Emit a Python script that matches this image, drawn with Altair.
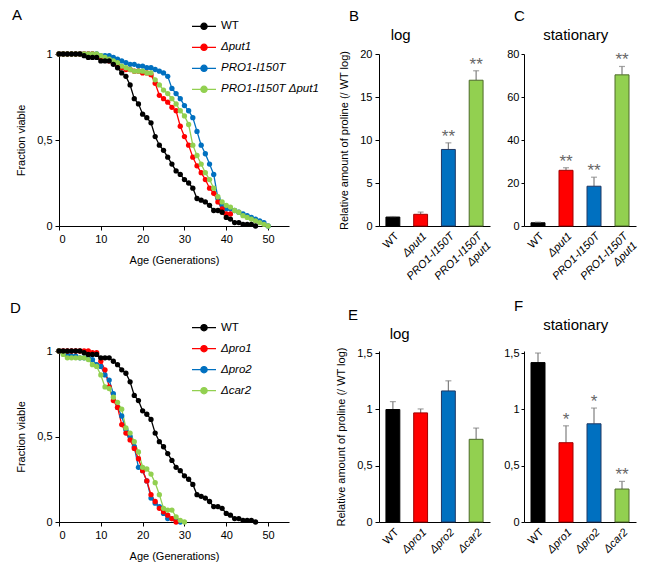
import altair as alt
import pandas as pd

FONT = "Liberation Sans"
NB = "\u00a0"
ZW = "\u200b"

# ---------------- Panel A: lifespan ----------------
A_series = ["WT", "Δput1", "PRO1-I150T", "PRO1-I150T Δput1"]
A_colors = ["#000000", "#FF0000", "#0070C0", "#92D050"]

A_wt = [1, 1, 1, 1, 1, 1, 0.99, 0.98, 0.98, 0.98, 0.96, 0.96, 0.96, 0.94, 0.92, 0.89,
        0.87, 0.82, 0.74, 0.71, 0.65, 0.63, 0.60, 0.52, 0.47, 0.44, 0.40, 0.36, 0.32,
        0.30, 0.27, 0.25, 0.22, 0.16, 0.15, 0.14, 0.12, 0.09, 0.09, 0.08, 0.05, 0.04,
        0.02, 0.02, 0.01, 0.01, 0.01, 0]
A_put1 = [1, 1, 1, 1, 1, 1, 1, 1, 1, 0.99, 0.98, 0.97, 0.96, 0.95, 0.93, 0.92, 0.91,
          0.91, 0.90, 0.90, 0.89, 0.89, 0.88, 0.83, 0.76, 0.74, 0.72, 0.69, 0.67, 0.58,
          0.52, 0.47, 0.40, 0.35, 0.31, 0.27, 0.22, 0.19, 0.14, 0.10, 0.07, 0.07]
A_pro1 = [1, 1, 1, 1, 1, 1, 1, 1, 1, 1, 0.99, 0.99, 0.99, 0.98, 0.97, 0.96, 0.95, 0.94,
          0.94, 0.93, 0.93, 0.92, 0.92, 0.91, 0.90, 0.89, 0.87, 0.80, 0.77, 0.74, 0.70,
          0.67, 0.63, 0.55, 0.47, 0.42, 0.36, 0.30, 0.16, 0.12, 0.10, 0.10, 0.09, 0.08,
          0.07, 0.06, 0.05, 0.04, 0.03, 0.02, 0]
A_both = [1, 1, 1, 1, 1, 1, 1, 1, 1, 1, 0.99, 0.98, 0.97, 0.96, 0.95, 0.93, 0.92, 0.91,
          0.90, 0.90, 0.90, 0.89, 0.89, 0.85, 0.82, 0.79, 0.77, 0.74, 0.71, 0.67, 0.64,
          0.59, 0.47, 0.41, 0.36, 0.31, 0.27, 0.22, 0.17, 0.14, 0.12, 0.11, 0.09, 0.08,
          0.06, 0.05, 0.04, 0.03, 0.02, 0.01, 0]

# ---------------- Panel D: lifespan ----------------
D_series = ["WT", "Δpro1", "Δpro2", "Δcar2"]
D_colors = ["#000000", "#FF0000", "#0070C0", "#92D050"]
D_wt = A_wt
D_pro1 = [1, 1, 1, 1, 1, 1, 1, 1, 0.99, 0.99, 0.94, 0.89, 0.79, 0.71, 0.67, 0.57, 0.52,
          0.48, 0.43, 0.37, 0.30, 0.24, 0.16, 0.12, 0.08, 0.06, 0.04, 0.02, 0]
D_pro2 = [1, 0.99, 0.98, 0.97, 0.97, 0.96, 0.96, 0.96, 0.95, 0.92, 0.91, 0.86, 0.83,
          0.75, 0.67, 0.62, 0.54, 0.50, 0.44, 0.32, 0.30, 0.24, 0.14, 0.11, 0.09, 0.05,
          0.02, 0.02, 0.01, 0]
D_car2 = [1, 0.98, 0.96, 0.96, 0.96, 0.96, 0.96, 0.95, 0.92, 0.91, 0.86, 0.79, 0.78,
          0.73, 0.70, 0.66, 0.55, 0.52, 0.47, 0.41, 0.32, 0.31, 0.28, 0.23, 0.16, 0.08,
          0.07, 0.07, 0.03, 0.01, 0]

# ---------------- Bar panels ----------------
B_cats = ["WT", "Δput1", "PRO1-I150T", "PRO1-I150T Δput1"]
B_vals = [1.04, 1.36, 8.9, 16.95]
B_errs = [0.06, 0.26, 0.77, 1.1]
B_stars = ["", "", "**", "**"]

C_vals = [1.5, 25.9, 18.5, 70.3]
C_errs = [0.3, 1.2, 4.2, 3.9]
C_stars = ["", "**", "**", "**"]

E_cats = ["WT", "Δpro1", "Δpro2", "Δcar2"]
E_vals = [1.0, 0.97, 1.165, 0.735]
E_errs = [0.07, 0.035, 0.09, 0.10]
E_stars = ["", "", "", ""]

F_vals = [1.417, 0.705, 0.873, 0.293]
F_errs = [0.085, 0.15, 0.14, 0.068]
F_stars = ["", "*", "*", "**"]

BAR_FILL = ["#000000", "#FF0000", "#0070C0", "#92D050"]
BAR_STROKE = ["#000000", "#A00000", "#1F3864", "#4E6B2A"]

LEG_SYMBOL = "M-1,0L1,0M0.26,0A0.26,0.26,0,1,1,-0.26,0A0.26,0.26,0,1,1,0.26,0Z"
COMMA = "replace(format(datum.value, '~g'), '.', ',')"
ITALIC_EXPR = "datum.label == 'WT' ? 'normal' : 'italic'"


def title_params(lines, dx, dy=0):
    return alt.TitleParams(text=lines, anchor="start", frame="group", dx=dx, dy=dy,
                           fontSize=15, fontWeight="normal", font=FONT,
                           lineHeight=19, offset=5, color="#000000")


def lifespan(series, colors, curves, title, dx, dy, legend_y, height):
    rows = []
    # draw order: blue, red, green, black on top
    for idx in [2, 1, 3, 0]:
        for age, frac in enumerate(curves[idx]):
            rows.append({"series": series[idx], "age": age, "frac": frac})
    df = pd.DataFrame(rows)
    x = alt.X("age:Q", scale=alt.Scale(domain=[0, 55], nice=False),
              axis=alt.Axis(values=[0, 10, 20, 30, 40, 50], title="Age (Generations)",
                            grid=False, tickSize=4, titlePadding=10))
    y = alt.Y("frac:Q", scale=alt.Scale(domain=[0, 1], nice=False),
              axis=alt.Axis(values=[0, 0.5, 1], title="Fraction viable", grid=False,
                            tickSize=4, labelExpr=COMMA, titlePadding=10))
    leg = alt.Legend(title=ZW, titleOrient="right", titlePadding=6, titleFontSize=11,
                     orient="none", legendX=132, legendY=legend_y,
                     symbolType=LEG_SYMBOL, symbolSize=576, symbolStrokeWidth=1.3,
                     labelFont=FONT, labelFontSize=11.5, labelColor="#000000",
                     labelFontStyle=alt.ExprRef(expr=ITALIC_EXPR),
                     rowPadding=2, labelOffset=4, symbolOpacity=1)
    cscale = alt.Scale(domain=series, range=colors)
    line = alt.Chart(df).mark_line(strokeWidth=1.3).encode(
        x=x, y=y, detail="series:N",
        color=alt.Color("series:N", scale=cscale),
        order=alt.Order("age:Q"),
    )
    pts = alt.Chart(df).mark_point(filled=True, size=28, opacity=1, strokeWidth=0).encode(
        x=x, y=y,
        color=alt.Color("series:N", scale=cscale, legend=leg),
        stroke=alt.Stroke("series:N", scale=cscale, legend=leg),
    )
    return alt.layer(line, pts).properties(width=230, height=height,
                                           title=title_params(title, dx, dy))


def bars(cats, vals, errs, stars, ymax, yticks, width, height, title, dx, ytitle, label_expr):
    df = pd.DataFrame({"cat": cats, "val": vals, "err": errs, "star": stars})
    x = alt.X("cat:N", sort=cats, scale=alt.Scale(paddingInner=0.5, paddingOuter=0.25),
              axis=alt.Axis(title=None, labelAngle=315, ticks=False, labelPadding=4,
                            labelFontStyle={"condition": {"test": "datum.value == 'WT'", "value": "normal"},
                                            "value": "italic"},
                            labelExpr=label_expr, labelLineHeight=13))
    if ytitle:
        yax = dict(grid=False, tickSize=4, labelExpr=COMMA, values=yticks, titlePadding=10,
                   title=ytitle)
    else:
        yax = dict(grid=False, tickSize=3, labelPadding=2, labelExpr=COMMA, values=yticks,
                   title=None)
    ysc = alt.Scale(domain=[0, ymax], nice=False)
    base = alt.Chart(df).transform_calculate(top="datum.val + datum.err")
    b = base.mark_bar(strokeWidth=1).encode(
        x=x, y=alt.Y("val:Q", scale=ysc, axis=alt.Axis(**yax)),
        fill=alt.Fill("cat:N", scale=alt.Scale(domain=cats, range=BAR_FILL), legend=None),
        stroke=alt.Stroke("cat:N", scale=alt.Scale(domain=cats, range=BAR_STROKE), legend=None),
    )
    r = base.mark_rule(color="#7F7F7F", strokeWidth=1.2).encode(
        x=x, y=alt.Y("val:Q", scale=ysc, axis=alt.Axis(**yax)), y2="top:Q")
    cap = base.mark_tick(color="#7F7F7F", thickness=1.2, size=6).encode(
        x=x, y=alt.Y("top:Q", scale=ysc, axis=alt.Axis(**yax)))
    t = base.mark_text(color="#666666", fontSize=17, font=FONT, baseline="alphabetic", dy=-1).encode(
        x=x, y=alt.Y("top:Q", scale=ysc, axis=alt.Axis(**yax)), text="star:N")
    return alt.layer(r, b, cap, t).properties(width=width, height=height,
                                              title=title_params(title, dx))


B_LABELS = "datum.label == 'PRO1-I150T Δput1' ? ['PRO1-I150T', 'Δput1'] : datum.label"
E_LABELS = "datum.label"
YT = "Relative amount of proline (/ WT log)"

pA = lifespan(A_series, A_colors, [A_wt, A_put1, A_pro1, A_both], "A", -47, 15, -40.7, 172)
pB = bars(B_cats, B_vals, B_errs, B_stars, 20, [0, 5, 10, 15, 20], 111, 172,
          ["B", ZW + NB * 10 + "log"], -30, YT, B_LABELS)
pC = bars(B_cats, C_vals, C_errs, C_stars, 80, [0, 20, 40, 60, 80], 112, 172,
          ["C", ZW + NB * 7 + "stationary"], -10, None, B_LABELS)
pD = lifespan(D_series, D_colors, [D_wt, D_pro1, D_pro2, D_car2], "D", -49, 6, -36.3, 171)
pE = bars(E_cats, E_vals, E_errs, E_stars, 1.52, [0, 0.5, 1, 1.5], 111, 171,
          ["E", ZW + NB * 10 + "log"], -31, YT, E_LABELS)
pF = bars(E_cats, F_vals, F_errs, F_stars, 1.52, [0, 0.5, 1, 1.5], 112, 171,
          ["F", ZW + NB * 7 + "stationary"], -10, None, E_LABELS)

chart = alt.concat(pA, pB, pC, pD, pE, pF, columns=3, spacing={"row": 8, "column": 10},
                   align="each").resolve_scale(
    color="independent", stroke="independent", fill="independent", y="independent", x="independent"
).properties(padding={"left": 2, "top": 0, "right": 5, "bottom": 2}).configure_axis(
    labelFont=FONT, titleFont=FONT, labelFontSize=11, titleFontSize=11,
    labelColor="#000000", titleColor="#000000", titleFontWeight="normal",
    domainColor="#000000", domainWidth=1, tickColor="#000000", tickWidth=1, labelPadding=3,
).configure_view(strokeWidth=0)

chart.save("out.html", embed_options={"renderer": "svg", "actions": False})
